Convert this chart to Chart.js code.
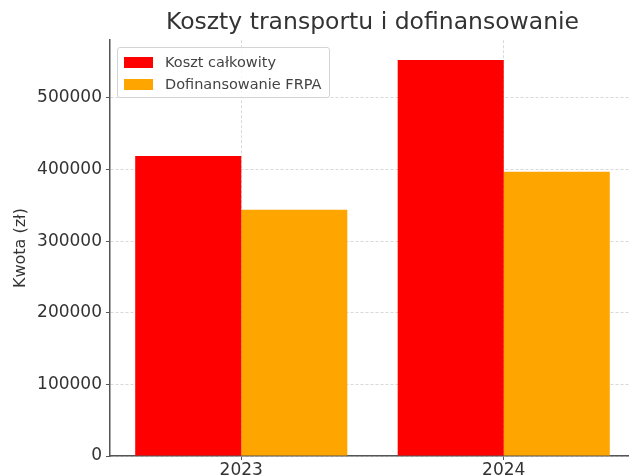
<!DOCTYPE html>
<html>
<head>
<meta charset="utf-8">
<script src="https://cdn.jsdelivr.net/npm/chart.js@4/dist/chart.umd.min.js"></script>
<style>
  body { margin: 0; background: #fff; overflow: hidden; }
  #wrap { position: relative; width: 629px; height: 475px; overflow: hidden; }
  #costChart { display: block; }
  #legend {
    position: absolute; left: 117px; top: 47px; width: 211px;
    padding: 3px 0 2px 0;
    border: 1px solid #d4d4d4; border-radius: 3px;
    background: rgba(255, 255, 255, 0.8);
    font-family: "DejaVu Sans", sans-serif; font-size: 14.5px; color: #444;
  }
  #legend .row { display: flex; align-items: center; height: 22px; }
  #legend .box { width: 29px; height: 11px; margin: 0 12px 0 6px; }
</style>
</head>
<body>
<div id="wrap">
  <canvas id="costChart" width="640" height="475"></canvas>
  <div id="legend"></div>
</div>
<script>
const years = ["2023", "2024"];
const totalCost = [419000, 553000];
const frpaFunding = [344000, 397000];
const seriesNames = ["Koszt całkowity", "Dofinansowanie FRPA"];
const seriesColors = ["#ff0000", "#ffa500"];
const yTicks = [0, 100000, 200000, 300000, 400000, 500000];

showCostChart();

function showCostChart() {
  let context = document.getElementById("costChart").getContext("2d");
  let font = "'DejaVu Sans', sans-serif";
  let yMax = Math.max(...totalCost, ...frpaFunding) * 1.05;

  let gridOpts = {
    color: "#cfcfcf",
    lineWidth: 0.8,
    tickLength: 4,
    tickColor: "#555",
    tickBorderDash: [],
    tickWidth: 1
  };

  let myChart = new Chart(context, {
    type: "bar",
    data: {
      labels: years,
      datasets: [
        { label: seriesNames[0], data: totalCost, backgroundColor: seriesColors[0] },
        { label: seriesNames[1], data: frpaFunding, backgroundColor: seriesColors[1] }
      ]
    },
    options: {
      responsive: false,
      animation: false,
      layout: { padding: { left: 0, right: 5, top: 0, bottom: 0 } },
      datasets: { bar: { barPercentage: 1, categoryPercentage: 0.808, borderWidth: 0 } },
      plugins: {
        legend: { display: false },
        tooltip: { enabled: false },
        title: {
          display: true,
          text: "Koszty transportu i dofinansowanie",
          fullSize: false,
          color: "#333",
          font: { family: font, size: 23.5, weight: "normal", lineHeight: 1.2 },
          padding: { top: 9, bottom: 3 }
        }
      },
      scales: {
        x: {
          offset: true,
          grid: Object.assign({ offset: false }, gridOpts),
          border: { display: true, color: "#555", width: 1.5, dash: [3, 2] },
          ticks: { color: "#333", font: { family: font, size: 17 }, padding: 0 },
          afterFit: function(scale) { scale.height = 19; }
        },
        y: {
          min: 0,
          max: yMax,
          grid: gridOpts,
          border: { display: true, color: "#555", width: 1.5, dash: [3, 2] },
          ticks: {
            color: "#333",
            padding: 4,
            font: { family: font, size: 17 },
            callback: function(v) { return String(v); }
          },
          afterBuildTicks: function(scale) {
            scale.ticks = yTicks.map(function(v) { return { value: v }; });
          },
          title: {
            display: true,
            text: "Kwota (zł)",
            color: "#333",
            font: { family: font, size: 16 },
            padding: { top: 11, bottom: 0 }
          },
          afterFit: function(scale) { scale.width = 110; }
        }
      }
    }
  });

  let legend = document.getElementById("legend");
  myChart.data.datasets.forEach(function(ds) {
    let row = document.createElement("div");
    row.className = "row";
    let box = document.createElement("span");
    box.className = "box";
    box.style.background = ds.backgroundColor;
    let text = document.createElement("span");
    text.textContent = ds.label;
    row.appendChild(box);
    row.appendChild(text);
    legend.appendChild(row);
  });
}
</script>
</body>
</html>
